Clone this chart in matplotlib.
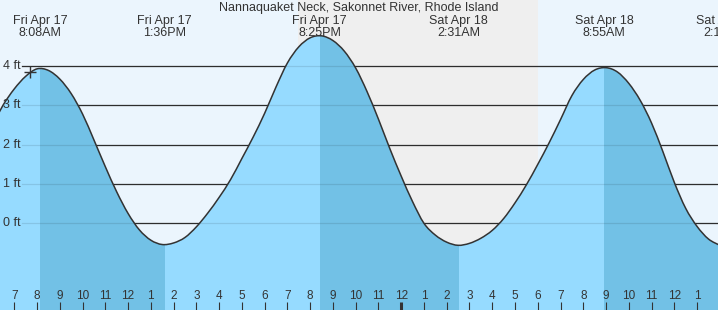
import numpy as np
import matplotlib.pyplot as plt
from matplotlib.path import Path
from matplotlib.patches import PathPatch
from matplotlib.transforms import blended_transform_factory

plt.rcParams['font.family'] = ['Liberation Sans', 'DejaVu Sans']

# tide heights (ft), every half hour from Fri 6:00 (hours since Fri 00:00)
hours = np.arange(6.0, 38.01, 0.5)
heights = [2.45, 3.00, 3.42, 3.74, 3.93,
           3.89, 3.67, 3.30, 2.78, 2.12, 1.44, 0.80, 0.25, -0.17, -0.43, -0.54,
           -0.50, -0.36, -0.09, 0.26, 0.66, 1.11, 1.65, 2.20, 2.80, 3.47, 4.08, 4.49, 4.72, 4.77,
           4.65, 4.38, 3.95, 3.35, 2.65, 1.90, 1.20, 0.55, 0.00, -0.30, -0.48, -0.56,
           -0.51, -0.38, -0.18, 0.12, 0.52, 0.98, 1.50, 2.05, 2.64, 3.25, 3.66, 3.90, 3.96,
           3.85, 3.56, 3.13, 2.55, 1.82, 1.04, 0.38, -0.08, -0.40, -0.56]

# highs and lows
tide_hours = [8.133, 13.6, 20.417, 26.517, 32.917, 38.233]
tide_days = ["Fri Apr 17", "Fri Apr 17", "Fri Apr 17", "Sat Apr 18", "Sat Apr 18", "Sat Apr 18"]
tide_times = ["8:08AM", "1:36PM", "8:25PM", "2:31AM", "8:55AM", "2:14PM"]

sunset = 19.467
sunrise = 30.0
feet = [0, 1, 2, 3, 4]
title = "Nannaquaket Neck, Sakonnet River, Rhode Island"

W, H = 718, 310
x0, x1 = 6.372, 6.372 + W / 22.76
y0, y1 = -2.206, 5.682


def smooth_path(xs, ys):
    # bezier path through the points (catmull-rom style handles)
    p = np.column_stack([xs, ys])
    verts = [p[0]]
    codes = [Path.MOVETO]
    n = len(p)
    for i in range(n - 1):
        a = p[max(i - 1, 0)]
        b = p[i]
        c = p[i + 1]
        d = p[min(i + 2, n - 1)]
        verts += [b + (c - a) / 6, c - (d - b) / 6, c]
        codes += [Path.CURVE4] * 3
    return verts, codes


fig = plt.figure(figsize=(W / 100, H / 100), dpi=100)
fig.patch.set_facecolor('#ebf5fd')
ax = fig.add_axes([0, 0, 1, 1])
ax.set_xlim(x0, x1)
ax.set_ylim(y0, y1)
ax.axis('off')

ax.axvspan(sunset, sunrise, color='#efefef', lw=0, zorder=0)

for ft in feet:
    ax.axhline(ft, xmin=22 / W, color='#333333', lw=0.9, zorder=1)

verts, codes = smooth_path(hours, heights)
curve = Path(verts, codes)
fverts = verts + [(hours[-1], y0 - 1), (hours[0], y0 - 1), verts[0]]
fcodes = codes + [Path.LINETO, Path.LINETO, Path.CLOSEPOLY]
fill = PathPatch(Path(fverts, fcodes), facecolor='#96dbff', lw=0, zorder=2)
ax.add_patch(fill)

for a, b in zip(tide_hours[0::2], tide_hours[1::2]):
    r = ax.axvspan(a, b, color='#72c1e6', lw=0, zorder=2.5)
    r.set_clip_path(fill)

for ft in feet:
    ax.axhline(ft, xmin=22 / W, color='black', alpha=0.1, lw=0.9, zorder=3)

ax.add_patch(PathPatch(curve, facecolor='none', edgecolor='#333333', lw=1.1, zorder=4))
ax.plot(7.69, 3.86, marker='+', ms=9, mew=1, color='#333333', zorder=5)

tr = blended_transform_factory(ax.transData, ax.transAxes)
ytr = blended_transform_factory(ax.transAxes, ax.transData)

fig.text(0.5, 1 - 11.5 / H, title, ha='center', va='baseline', fontsize=9, color='#333333')
for t, d, tm in zip(tide_hours, tide_days, tide_times):
    ax.text(t, 1 - 24 / H, d, transform=tr, ha='center', va='baseline', fontsize=9, color='#333333')
    ax.text(t, 1 - 36.5 / H, tm, transform=tr, ha='center', va='baseline', fontsize=9, color='#333333')

for ft in feet:
    ax.text(2.7 / W, ft, f"{ft} ft", transform=ytr, ha='left', va='center', fontsize=9, color='#333333')

for h in range(7, 38):
    lw = 2.2 if h == 24 else 0.8
    ax.plot([h, h], [0, 8 / H], transform=tr, color='#333333', lw=lw, zorder=6, solid_capstyle='butt')
    ax.text(h, 10.7 / H, str((h - 1) % 12 + 1), transform=tr, ha='center', va='baseline',
            fontsize=8.5, color='#333333')

fig.savefig('out.png', dpi=100, facecolor=fig.get_facecolor())
